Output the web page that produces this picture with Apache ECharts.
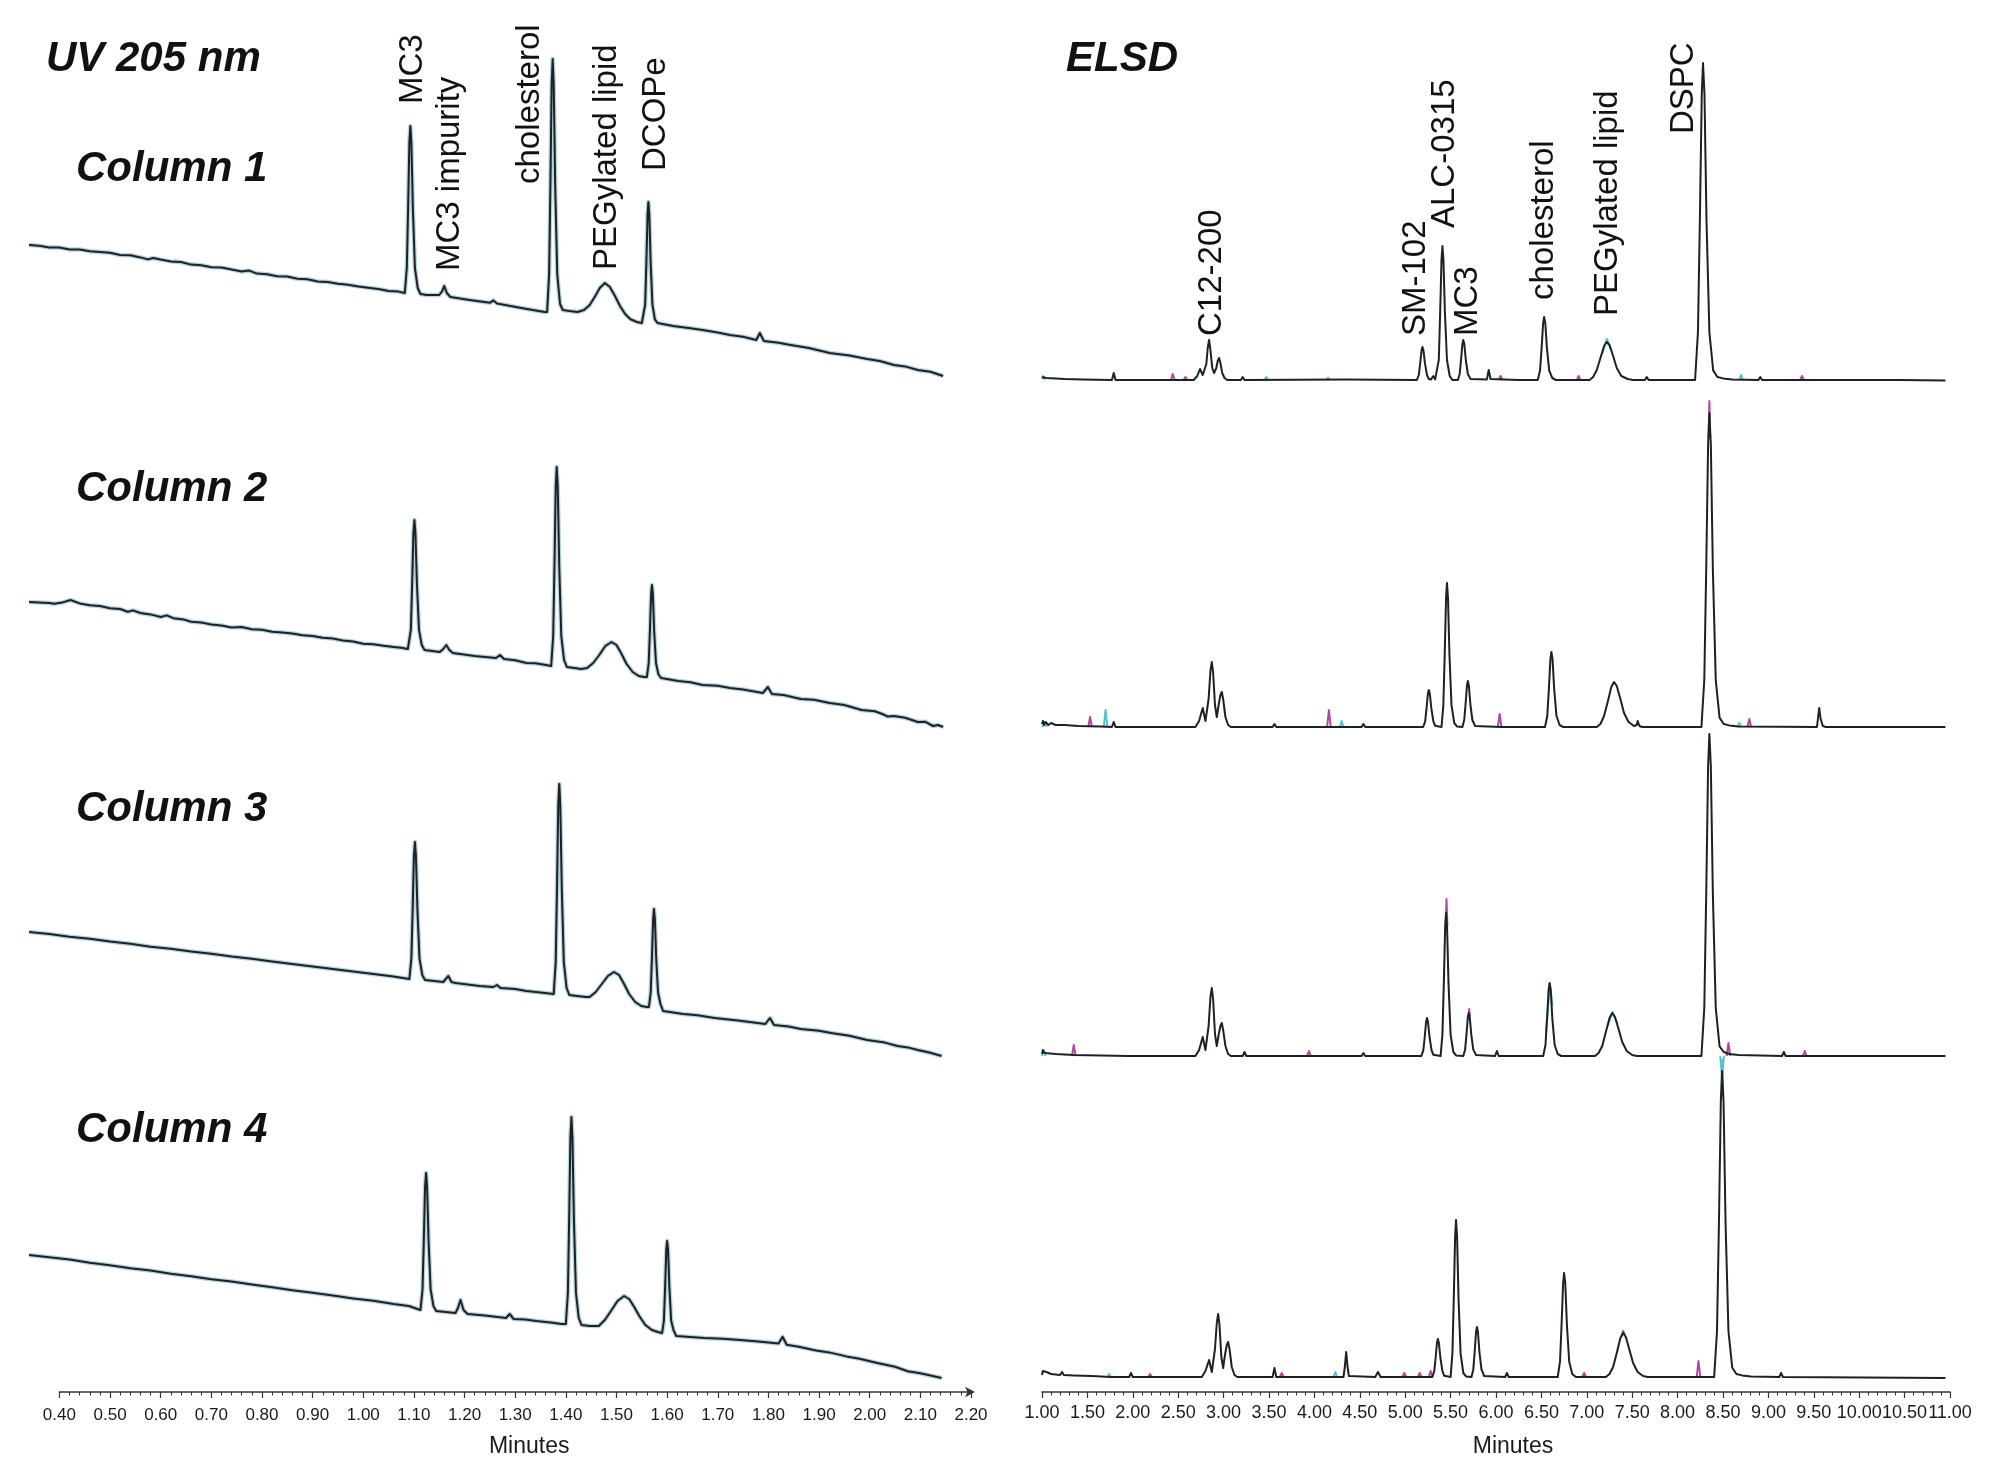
<!DOCTYPE html>
<html><head><meta charset="utf-8">
<script src="https://cdn.jsdelivr.net/npm/echarts@6/dist/echarts.min.js"></script>
<style>html,body{margin:0;padding:0;background:#fff}#c{width:2000px;height:1483px}</style>
</head><body><div id="c"></div>
<script>
// ---------------- DATA ----------------
const detectorTitles = ['UV 205 nm', 'ELSD'];
const columnNames = ['Column 1', 'Column 2', 'Column 3', 'Column 4'];
const uvPeakNames = ['MC3', 'MC3 impurity', 'cholesterol', 'PEGylated lipid', 'DCOPe'];
const elsdPeakNames = ['C12-200', 'SM-102', 'ALC-0315', 'MC3', 'cholesterol', 'PEGylated lipid', 'DSPC'];
const uvAxisRange = [0.40, 2.20];   // minutes, tick every 0.10
const elsdAxisRange = [1.00, 11.00]; // minutes, tick every 0.50

// UV 205 nm traces: [minutes, mAU]
const uvColumn1 = [[0.340,72.5],[0.36,72.1],[0.38,71.3],[0.40,71.2],[0.42,70.3],[0.44,70.3],[0.46,69.4],[0.48,69.0],[0.50,68.6],[0.52,67.5],[0.54,67.4],[0.56,66.3],[0.575,65.3],[0.585,66.0],[0.60,65.2],[0.62,64.3],[0.64,64.0],[0.66,62.7],[0.68,62.4],[0.70,61.4],[0.72,61.2],[0.74,60.3],[0.76,59.2],[0.775,59.7],[0.79,58.2],[0.81,57.9],[0.83,56.9],[0.85,56.7],[0.87,55.6],[0.89,55.4],[0.91,54.3],[0.93,54.0],[0.95,53.1],[0.97,52.6],[0.99,51.8],[1.01,51.1],[1.03,50.5],[1.05,49.5],[1.07,49.2],[1.082,48.5],
[1.086,61],[1.0885,90.3],[1.091,123.7],[1.093,132],[1.095,123.7],[1.098,90.3],[1.102,61],[1.1075,51],[1.113,48],[1.125,47.5],
[1.150,47.5],[1.156,49.5],[1.160,52],[1.165,48.5],[1.172,46.5],[1.21,45],
[1.250,43.6],[1.257,44.8],[1.264,43.3],[1.312,41],[1.358,39],
[1.363,39],[1.367,58],[1.3695,102],[1.372,153],[1.374,165.5],[1.376,153],[1.379,102],[1.383,58],[1.3885,43],[1.394,40],[1.407,39.5],[1.423,39],
[1.436,40],[1.447,42.5],[1.457,46.5],[1.467,51],[1.477,53.5],[1.487,51.5],[1.497,47],[1.507,42],[1.517,38],[1.527,35.5],[1.540,34],[1.550,33.5],
[1.553,33.5],[1.5566,42.6],[1.559,63.8],[1.5614,88],[1.563,94],[1.5648,88],[1.5674,63.8],[1.571,42.6],[1.5758,35.3],[1.581,33.5],
[1.612,32],[1.65,30.8],[1.670,30],[1.70,28.7],[1.724,27.5],[1.75,26.6],[1.776,25],[1.783,28.5],[1.791,24.5],[1.82,23.6],[1.844,22.5],[1.88,21.0],[1.921,18.5],[1.96,17.3],[1.995,15.5],[2.02,14.5],[2.048,12.5],[2.07,11.8],[2.095,10],[2.12,9.1],[2.145,7]];

const uvColumn2 = [[0.340,67.5],[0.36,67.3],[0.38,67.0],[0.39,66.6],[0.405,67.2],[0.422,68.5],[0.44,66.8],[0.46,65.9],[0.48,65.5],[0.50,64.4],[0.52,64.0],[0.535,62.6],[0.545,63.3],[0.56,62.0],[0.58,61.3],[0.60,60.0],[0.612,60.8],[0.625,59.4],[0.645,58.8],[0.66,57.6],[0.68,57.3],[0.70,56.3],[0.72,55.8],[0.74,54.7],[0.76,55.0],[0.78,53.9],[0.80,53.6],[0.82,52.6],[0.84,52.2],[0.86,51.8],[0.88,50.9],[0.90,50.5],[0.92,49.6],[0.94,49.2],[0.96,48.2],[0.98,47.7],[1.00,46.6],[1.02,46.4],[1.04,45.6],[1.06,45.0],[1.075,44.6],[1.088,44],
[1.090,44],[1.094,53.7],[1.0965,76.3],[1.099,102],[1.101,108.5],[1.103,102],[1.106,76.3],[1.110,53.7],[1.1155,46],[1.121,43.5],
[1.151,42.5],[1.158,44],[1.164,46],[1.170,43.5],[1.177,42],[1.22,40.5],
[1.262,39.5],[1.270,41],[1.278,39],[1.30,38.4],[1.322,37],[1.34,36.9],[1.361,36],
[1.371,35.5],[1.375,50.4],[1.3775,85.3],[1.380,125],[1.382,135],[1.384,125],[1.387,85.3],[1.391,50.4],[1.3965,38.5],[1.402,35],[1.417,34.5],[1.430,34],
[1.442,34.5],[1.454,37],[1.466,41],[1.478,45.5],[1.490,47.5],[1.500,46],[1.510,41.5],[1.520,36.5],[1.532,32.5],[1.544,30.5],[1.555,30],
[1.560,30],[1.5636,36.9],[1.566,53],[1.5684,71.4],[1.570,76],[1.5718,71.4],[1.5744,53],[1.578,36.9],[1.5828,31.4],[1.588,29.5],
[1.622,28],[1.646,27.4],[1.670,26],[1.70,25.6],[1.724,24.5],[1.75,23.8],[1.789,22],[1.799,25],[1.807,21.5],[1.83,21.0],[1.864,19],[1.89,18.6],[1.921,17],[1.95,16.0],[1.984,13.5],[2.01,12.9],[2.025,11.5],[2.035,10.3],[2.048,10.5],[2.07,9.6],[2.095,7.5],[2.11,7.6],[2.125,5.5],[2.135,6],[2.145,5]];

const uvColumn3 = [[0.340,67],[0.38,66.0],[0.42,64.6],[0.46,63.6],[0.50,62.2],[0.54,61.1],[0.58,59.6],[0.62,58.6],[0.66,57.2],[0.70,56.1],[0.74,54.7],[0.78,53.6],[0.82,52.2],[0.86,51.0],[0.90,49.7],[0.94,48.5],[0.98,47.2],[1.02,46.0],[1.06,44.7],[1.091,43.5],
[1.095,53.8],[1.0975,77.8],[1.100,105],[1.102,112],[1.104,105],[1.107,77.8],[1.111,53.8],[1.1165,45.5],[1.122,43],
[1.158,42],[1.163,43.5],[1.168,45],[1.174,42],[1.182,41.5],[1.23,40],
[1.257,39.5],[1.264,40.5],[1.271,39],[1.30,38.5],[1.322,37.5],[1.35,36.8],[1.376,36],
[1.380,51.8],[1.3825,88.5],[1.385,130.5],[1.387,141],[1.389,130.5],[1.392,88.5],[1.396,51.8],[1.4015,39],[1.407,35.5],[1.422,35],[1.440,34.5],
[1.447,34.5],[1.459,37],[1.471,41],[1.483,45],[1.495,47],[1.505,45.5],[1.515,41],[1.525,36],[1.537,32],[1.549,30],[1.560,29.5],
[1.564,29.5],[1.5676,36.9],[1.570,54],[1.5724,73.6],[1.574,78.5],[1.5758,73.6],[1.5784,54],[1.582,36.9],[1.5868,31],[1.592,27.5],
[1.632,26],[1.66,25.4],[1.694,24],[1.74,22.8],[1.794,21],[1.803,24],[1.811,20.5],[1.84,19.8],[1.864,18.5],[1.90,17.6],[1.924,16.5],[1.96,15.1],[1.995,13],[2.03,11.7],[2.055,10],[2.075,9.3],[2.095,8],[2.12,6.6],[2.142,5]];

const uvColumn4 = [[0.340,66.5],[0.38,65.4],[0.42,64.3],[0.46,62.6],[0.50,61.4],[0.54,59.9],[0.58,58.7],[0.62,57.1],[0.66,55.9],[0.70,54.4],[0.74,53.2],[0.78,51.7],[0.82,50.4],[0.86,48.9],[0.90,47.6],[0.94,46.2],[0.98,44.8],[1.02,43.6],[1.06,42.0],[1.09,41.0],[1.113,39],
[1.117,49.3],[1.1195,73.3],[1.122,100.6],[1.124,107.5],[1.126,100.6],[1.129,73.3],[1.133,49.3],[1.1385,41],[1.144,38.5],
[1.182,37.5],[1.187,40],[1.192,44],[1.198,39],[1.206,37],[1.24,36.2],
[1.282,35],[1.289,37],[1.297,34.5],[1.32,34.2],[1.342,33.5],[1.37,32.8],[1.392,32],
[1.400,32],[1.404,47.5],[1.4065,83.8],[1.409,125.2],[1.411,135.5],[1.413,125.2],[1.416,83.8],[1.420,47.5],[1.4255,35],[1.431,31.5],[1.447,31],
[1.465,31],[1.477,34],[1.489,38.5],[1.502,43.5],[1.515,46],[1.525,44.5],[1.535,40.5],[1.545,36],[1.557,31.5],[1.570,29],[1.582,28],
[1.590,27.5],[1.5936,33.6],[1.596,50.5],[1.5984,69.3],[1.600,73.5],[1.6018,69.3],[1.6044,50.5],[1.608,33.6],[1.6128,28.8],[1.618,26],
[1.674,25],[1.71,24.6],[1.744,24],[1.78,23.3],[1.820,22.2],[1.828,25.6],[1.836,21.6],[1.86,20.6],[1.894,18.8],[1.92,17.8],[1.954,15.8],[1.98,14.6],[2.015,12.5],[2.05,10.6],[2.075,8.4],[2.10,7.4],[2.142,5]];

// ELSD traces: [minutes, mV] (black = main injection)
const elsdColumn1 = [[1.00,1.5],[1.01,2.2],[1.05,1],[1.15,0.8],[1.25,0.5],[1.45,0.3],[1.77,0],[1.79,3.5],[1.81,0],[2.35,0],
[2.67,0],[2.71,2],[2.74,5.5],[2.77,2.5],[2.79,1.5],[2.81,8],[2.825,16],[2.84,20],[2.855,15],[2.875,6],[2.895,3.5],[2.92,6],[2.935,9.5],[2.95,11],[2.965,8.5],[2.985,3.5],[3.01,1],[3.04,0],
[3.19,0],[3.21,1.5],[3.23,0],[4.35,0.3],[5.128,0],
[5.150,2.5],[5.165,8.3],[5.180,14.8],[5.19,16.5],[5.201,14.8],[5.218,8.3],[5.24,2.5],[5.26,0.5],
[5.285,0.3],[5.31,2],[5.33,0.3],
[5.35,0],[5.37,10],[5.385,33.5],[5.40,60.3],[5.41,67],[5.421,60.3],[5.4375,33.5],[5.46,10],[5.49,2],[5.52,0],
[5.58,0],[5.60,3],[5.615,10],[5.63,18],[5.64,20],[5.651,18],[5.6675,10],[5.69,3],[5.72,0.5],
[5.90,0.3],[5.92,5],[5.94,0.5],[6.25,0],
[6.46,0],[6.485,4.7],[6.502,15.8],[6.519,28.4],[6.53,31.5],[6.543,28.4],[6.561,15.8],[6.586,4.7],[6.62,1],[6.66,0],
[7.03,0],[7.07,1.5],[7.11,5],[7.15,11],[7.19,17],[7.22,19],[7.25,17.5],[7.29,12],[7.33,6],[7.38,2],[7.45,0.5],[7.51,0],
[7.64,0],[7.66,1.5],[7.68,0],
[8.1925,0],[8.224,23.8],[8.245,79.3],[8.266,142.7],[8.28,158.5],[8.296,142.7],[8.3185,79.3],[8.35,23.8],[8.392,4.8],[8.438,1.5],[8.50,0.8],[8.60,0.3],
[8.89,0],[8.91,1.5],[8.93,0],[9.45,0],[10.45,0],[10.95,-0.2]];

const elsdColumn2 = [[1.00,1.5],[1.01,3],[1.02,1],[1.04,2.5],[1.07,1],[1.10,2],[1.15,1],[1.25,1],[1.40,0.5],[1.65,0.3],[1.77,0],[1.79,2.5],[1.81,0],[2.45,0],
[2.69,0],[2.73,3],[2.77,9.5],[2.80,3],[2.815,2.5],[2.835,14],[2.855,28],[2.87,32.5],[2.885,27],[2.905,11],[2.925,5],[2.945,11],[2.965,16],[2.98,17.5],[2.995,14],[3.02,5],[3.05,1],[3.08,0],
[3.54,0],[3.56,1.5],[3.58,0],[4.52,0],[4.54,1.5],[4.56,0],[5.198,0],
[5.22,2.8],[5.235,9.3],[5.25,16.7],[5.26,18.5],[5.271,16.7],[5.288,9.3],[5.31,2.8],[5.33,0.6],
[5.40,0],[5.42,10.8],[5.435,36],[5.45,64.8],[5.46,72],[5.471,64.8],[5.4875,36],[5.51,10.8],[5.54,2],[5.57,0.3],
[5.63,0],[5.65,3.5],[5.665,11.5],[5.68,20.7],[5.69,23],[5.701,20.7],[5.7175,11.5],[5.74,3.5],[5.77,0.5],[6.05,0],
[6.54,0],[6.565,5.6],[6.582,18.8],[6.599,33.8],[6.61,37.5],[6.623,33.8],[6.641,18.8],[6.666,5.6],[6.70,1],[6.74,0],
[7.11,0],[7.15,1.5],[7.19,5.5],[7.23,12.5],[7.27,20],[7.30,22.5],[7.33,20.5],[7.37,14],[7.41,7],[7.46,2.5],[7.52,0.5],[7.55,1],[7.56,3],[7.58,0.5],[7.61,0],
[8.2625,0],[8.294,23.6],[8.315,78.5],[8.336,141.3],[8.35,157],[8.366,141.3],[8.3885,78.5],[8.42,23.6],[8.462,4.7],[8.508,1.5],[8.57,0.8],[8.67,0.3],
[9.535,0],[9.55,6],[9.56,9.5],[9.575,4],[9.60,0.5],[9.63,0],[10.95,0]];

const elsdColumn3 = [[1.00,1],[1.01,3],[1.03,1.5],[1.05,2],[1.15,1],[1.35,0.5],[1.65,0.2],[1.95,0],
[2.69,0],[2.73,3],[2.77,9.5],[2.80,3],[2.815,2.5],[2.835,15],[2.855,29.5],[2.87,34],[2.885,28],[2.905,11],[2.925,5],[2.945,10.5],[2.965,15],[2.98,16.5],[2.995,13],[3.02,5],[3.05,1],[3.08,0],
[3.21,0],[3.23,2],[3.25,0],[4.52,0],[4.54,1.5],[4.56,0],[4.86,0],[4.88,1],[4.90,0],[5.178,0],
[5.20,2.9],[5.215,9.5],[5.23,17.1],[5.24,19],[5.251,17.1],[5.268,9.5],[5.29,2.9],[5.31,0.6],
[5.39,0],[5.41,10.7],[5.425,35.8],[5.44,64.4],[5.45,71.5],[5.461,64.4],[5.4775,35.8],[5.50,10.7],[5.53,2],[5.56,0.3],
[5.64,0],[5.66,3.2],[5.675,10.8],[5.69,19.4],[5.70,21.5],[5.711,19.4],[5.7275,10.8],[5.75,3.2],[5.78,0.5],
[5.99,0],[6.01,2.5],[6.03,0],
[6.52,0],[6.545,5.5],[6.562,18.3],[6.579,32.9],[6.59,36.5],[6.603,32.9],[6.621,18.3],[6.646,5.5],[6.68,1],[6.72,0],
[7.09,0],[7.13,1.5],[7.17,5],[7.21,12],[7.25,19],[7.28,21.5],[7.31,19.5],[7.35,13.5],[7.39,7],[7.44,2.5],[7.50,0.5],[7.55,0],
[8.2625,0],[8.294,24.2],[8.315,80.5],[8.336,144.9],[8.35,161],[8.366,144.9],[8.3885,80.5],[8.42,24.2],[8.462,4.8],[8.508,2],[8.57,1],[8.67,0.5],
[9.15,0],[9.17,2],[9.19,0],[10.95,0]];

const elsdColumn4 = [[1.00,1],[1.01,3],[1.02,2],[1.05,2.5],[1.10,1.5],[1.20,1],[1.22,2.5],[1.24,1],[1.35,0.8],[1.55,0.5],[1.75,0],[1.96,0],[1.98,2],[2.00,0],
[2.76,0],[2.80,3],[2.84,8.5],[2.87,2.5],[2.885,2.5],[2.905,14],[2.925,27],[2.94,31.5],[2.955,26],[2.975,10],[2.995,4.5],[3.015,11],[3.035,16],[3.05,17.5],[3.065,14],[3.09,5],[3.12,1],[3.15,0],
[3.54,0],[3.56,4.5],[3.58,0],[4.32,0],[4.335,5],[4.35,12.5],[4.365,5],[4.38,0.5],[4.40,0],[4.67,0],[4.70,2.5],[4.73,0],[5.298,0],
[5.32,2.9],[5.335,9.5],[5.35,17.1],[5.36,19],[5.371,17.1],[5.388,9.5],[5.41,2.9],[5.43,0.6],
[5.50,0],[5.52,11.8],[5.535,39.3],[5.55,70.7],[5.56,78.5],[5.571,70.7],[5.5875,39.3],[5.61,11.8],[5.64,2],[5.67,0.3],
[5.73,0],[5.75,3.8],[5.765,12.5],[5.78,22.5],[5.79,25],[5.801,22.5],[5.8175,12.5],[5.84,3.8],[5.87,0.5],
[6.10,0],[6.12,2],[6.14,0],
[6.68,0],[6.705,7.8],[6.722,26],[6.739,46.8],[6.75,52],[6.763,46.8],[6.781,26],[6.806,7.8],[6.84,1.5],[6.88,0],
[7.21,0],[7.25,1.5],[7.29,5],[7.33,12],[7.37,19.5],[7.40,22],[7.43,20],[7.47,13.5],[7.51,7],[7.56,2.5],[7.62,0.5],[7.67,0],
[8.4025,0],[8.434,23],[8.455,76.5],[8.476,137.7],[8.49,153],[8.506,137.7],[8.5285,76.5],[8.56,23],[8.602,4.6],[8.648,1.5],[8.71,0.8],[8.81,0.3],
[9.12,0],[9.14,2],[9.16,0],[10.95,-0.5]];

// Replicate injections visible where they differ (cyan, magenta); null = gap
const elsdCyan1 = [[1.00,0.5],[1.01,2],[1.03,0],[1.05,null],[3.45,0],[3.47,1.5],[3.49,0],[3.55,null],[4.13,0],[4.15,1.2],[4.17,0],[4.25,null],[7.17,13],[7.22,20.5],[7.27,15],[7.35,null],[8.68,0],[8.70,2.5],[8.72,0]];
const elsdMagenta1 = [[2.42,0],[2.44,3],[2.46,0],[2.5,null],[2.56,0],[2.58,1.5],[2.60,0],[2.65,null],[6.03,0],[6.05,2],[6.07,0],[6.15,null],[6.89,0],[6.91,2],[6.93,0],[6.95,null],[9.35,0],[9.37,2],[9.39,0]];
const elsdCyan2 = [[1.01,0],[1.03,2.5],[1.05,0],[1.15,null],[1.68,0],[1.70,8.5],[1.72,0],[1.75,null],[4.28,0],[4.30,3],[4.32,0],[4.35,null],[8.66,0],[8.68,2],[8.70,0]];
const elsdMagenta2 = [[1.51,0],[1.53,5],[1.55,0],[1.65,null],[4.14,0],[4.16,8.5],[4.18,0],[4.25,null],[6.02,0],[6.04,6.5],[6.06,0],[6.15,null],[8.342,145],[8.35,163],[8.358,145],[8.45,null],[8.77,0],[8.79,4],[8.81,0]];
const elsdCyan3 = [[1.00,0],[1.02,2.5],[1.04,0],[1.15,null],[6.55,12],[6.595,36],[6.62,25],[6.75,null],[7.23,15],[7.285,22],[7.34,16],[7.4,null],[8.47,0],[8.49,-11],[8.51,0]];
const elsdMagenta3 = [[1.33,0],[1.35,5.5],[1.37,0],[1.45,null],[3.92,0],[3.94,2.5],[3.96,0],[4.05,null],[5.445,65],[5.455,78.5],[5.465,65],[5.55,null],[5.698,20],[5.705,23.5],[5.712,20],[5.85,null],[8.54,0],[8.56,6.5],[8.58,0],[8.65,null],[9.38,0],[9.40,2.5],[9.42,0]];
const elsdCyan4 = [[1.72,0],[1.74,1.5],[1.76,0],[1.85,null],[4.21,0],[4.23,2.5],[4.25,0],[4.3,null],[8.485,140],[8.49,158.5],[8.495,140]];
const elsdMagenta4 = [[2.17,0],[2.19,1.5],[2.21,0],[2.25,null],[3.62,0],[3.64,2],[3.66,0],[3.75,null],[4.97,0],[4.99,2],[5.01,0],[5.05,null],[5.14,0],[5.16,2],[5.18,0],[5.2,null],[5.26,0],[5.28,3],[5.30,0],[5.31,null],[6.95,0],[6.97,2],[6.99,0],[7.05,null],[7.38,20],[7.40,23],[7.42,21],[7.55,null],[8.21,0],[8.23,8],[8.25,0]];

// ---------------- LAYOUT ----------------
const FONT = "'Liberation Sans', Arial, Helvetica, sans-serif";
const uvData = [uvColumn1, uvColumn2, uvColumn3, uvColumn4];
const elsdData = [elsdColumn1, elsdColumn2, elsdColumn3, elsdColumn4];
const elsdCyan = [elsdCyan1, elsdCyan2, elsdCyan3, elsdCyan4];
const elsdMagenta = [elsdMagenta1, elsdMagenta2, elsdMagenta3, elsdMagenta4];

const UV_X0 = 59.4, UV_X1 = 971;            // pixel of 0.40 and 2.20
const UV_PX_PER_MIN = (UV_X1 - UV_X0) / (uvAxisRange[1] - uvAxisRange[0]);
const UV_MIN = 0.30;
const UV_LEFT = UV_X0 - (uvAxisRange[0] - UV_MIN) * UV_PX_PER_MIN;
const UV_WIDTH = (uvAxisRange[1] - UV_MIN) * UV_PX_PER_MIN;
const EL_LEFT = 1042, EL_WIDTH = 908;
const UV_BOTTOMS = [390, 737, 1066, 1388];
const EL_BASE = [380, 727, 1056, 1377];
const PANEL_H = 360;
const AXIS_Y = 1392;

const grids = [], xAxes = [], yAxes = [], series = [];
function addGrid(g) { grids.push(Object.assign({ containLabel: false, outerBoundsMode: 'none' }, g)); return grids.length - 1; }

for (let k = 0; k < 4; k++) {
  const gi = addGrid({ left: UV_LEFT, width: UV_WIDTH, top: UV_BOTTOMS[k] - PANEL_H, height: PANEL_H });
  xAxes.push({ type: 'value', gridIndex: gi, min: UV_MIN, max: uvAxisRange[1], show: false });
  yAxes.push({ type: 'value', gridIndex: gi, min: 0, max: 180, show: false });
  series.push({ type: 'line', xAxisIndex: gi, yAxisIndex: gi, data: uvData[k], showSymbol: false, symbol: 'none', clip: false, silent: true,
    lineStyle: { color: 'rgba(120,175,190,0.55)', width: 4.5, join: 'round' }, z: 1 });
  series.push({ type: 'line', xAxisIndex: gi, yAxisIndex: gi, data: uvData[k], showSymbol: false, symbol: 'none', clip: false, silent: true,
    lineStyle: { color: '#1d2126', width: 2, join: 'round' }, z: 3 });
}
for (let k = 0; k < 4; k++) {
  const gi = addGrid({ left: EL_LEFT, width: EL_WIDTH, top: EL_BASE[k] + 20 - PANEL_H, height: PANEL_H });
  xAxes.push({ type: 'value', gridIndex: gi, min: elsdAxisRange[0], max: elsdAxisRange[1], show: false });
  yAxes.push({ type: 'value', gridIndex: gi, min: -10, max: 170, show: false });
  series.push({ type: 'line', xAxisIndex: gi, yAxisIndex: gi, data: elsdCyan[k], showSymbol: false, symbol: 'none', clip: false, silent: true, connectNulls: false,
    lineStyle: { color: '#52c2cf', width: 2, join: 'round' }, z: 1 });
  series.push({ type: 'line', xAxisIndex: gi, yAxisIndex: gi, data: elsdMagenta[k], showSymbol: false, symbol: 'none', clip: false, silent: true, connectNulls: false,
    lineStyle: { color: '#b3479c', width: 2, join: 'round' }, z: 2 });
  series.push({ type: 'line', xAxisIndex: gi, yAxisIndex: gi, data: elsdData[k], showSymbol: false, symbol: 'none', clip: false, silent: true,
    lineStyle: { color: '#1d2126', width: 2, join: 'round' }, z: 3 });
}
// bottom time axes
const uvAx = addGrid({ left: UV_X0, width: UV_X1 - UV_X0, top: AXIS_Y - 100, height: 100 });
xAxes.push({ type: 'value', gridIndex: uvAx, min: uvAxisRange[0], max: uvAxisRange[1], interval: 0.1, position: 'bottom',
  name: 'Minutes', nameLocation: 'middle', nameGap: 43,
  nameTextStyle: { fontFamily: FONT, fontSize: 23, color: '#1a1a1a', padding: [0, 0, 0, 28] },
  axisLine: { show: true, symbol: ['none', 'arrow'], symbolSize: [8, 10], symbolOffset: [0, 4], lineStyle: { color: '#333', width: 1.5 } },
  axisTick: { show: true, length: 6, lineStyle: { color: '#333', width: 1.2 } },
  minorTick: { show: true, splitNumber: 5, length: 3.5, lineStyle: { color: '#333', width: 1 } },
  splitLine: { show: false }, minorSplitLine: { show: false },
  axisLabel: { margin: 15, fontFamily: FONT, fontSize: 17, color: '#1a1a1a', showMinLabel: true, showMaxLabel: true, formatter: v => v.toFixed(2) } });
yAxes.push({ type: 'value', gridIndex: uvAx, show: false, min: 0, max: 1 });
const elAx = addGrid({ left: EL_LEFT, width: EL_WIDTH, top: AXIS_Y - 100, height: 100 });
xAxes.push({ type: 'value', gridIndex: elAx, min: elsdAxisRange[0], max: elsdAxisRange[1], interval: 0.5, position: 'bottom',
  name: 'Minutes', nameLocation: 'middle', nameGap: 43,
  nameTextStyle: { fontFamily: FONT, fontSize: 23, color: '#1a1a1a', padding: [0, 0, 0, 34] },
  axisLine: { show: true, lineStyle: { color: '#333', width: 1.5 } },
  axisTick: { show: true, length: 6, lineStyle: { color: '#333', width: 1.2 } },
  minorTick: { show: true, splitNumber: 5, length: 3.5, lineStyle: { color: '#333', width: 1 } },
  splitLine: { show: false }, minorSplitLine: { show: false },
  axisLabel: { margin: 12, fontFamily: FONT, fontSize: 18, color: '#1a1a1a', showMinLabel: true, showMaxLabel: true, hideOverlap: false, formatter: v => v.toFixed(2) } });
yAxes.push({ type: 'value', gridIndex: elAx, show: false, min: 0, max: 1 });

// texts
const graphic = [];
function title(text, x, y) {
  graphic.push({ type: 'text', x, y, silent: true,
    style: { text, fontFamily: FONT, fontSize: 42, fontWeight: 'bold', fontStyle: 'italic', fill: '#111', align: 'left', verticalAlign: 'middle' } });
}
title(detectorTitles[0], 46, 59);
title(detectorTitles[1], 1066, 59);
const colLabelY = [169, 489, 809, 1130];
columnNames.forEach((c, i) => title(c, 76, colLabelY[i]));

function peakLabel(text, x, yBottom) {
  graphic.push({ type: 'text', x, y: yBottom, rotation: Math.PI / 2, silent: true,
    style: { text, fontFamily: FONT, fontSize: 33, fill: '#111', align: 'left', verticalAlign: 'middle' } });
}
const uvLabelPos = [[413, 104], [450, 271], [530, 184], [607, 270], [655.5, 171]];
uvPeakNames.forEach((n, i) => peakLabel(n, uvLabelPos[i][0], uvLabelPos[i][1]));
const elsdLabelPos = [[1212, 336], [1416, 336], [1445, 228], [1468, 336], [1544, 300], [1608, 316], [1684, 134]];
elsdPeakNames.forEach((n, i) => peakLabel(n, elsdLabelPos[i][0], elsdLabelPos[i][1]));

const chart = echarts.init(document.getElementById('c'), null, { renderer: 'canvas', width: 2000, height: 1483 });
chart.setOption({
  animation: false,
  backgroundColor: '#ffffff',
  grid: grids, xAxis: xAxes, yAxis: yAxes, series, graphic
});
</script></body></html>
